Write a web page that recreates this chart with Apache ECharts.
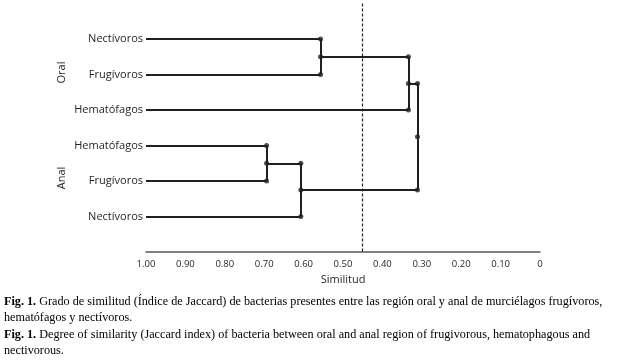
<!DOCTYPE html>
<html>
<head>
<meta charset="utf-8">
<script src="https://cdn.jsdelivr.net/npm/echarts@6/dist/echarts.min.js"></script>
<style>
html,body{margin:0;padding:0;background:#fff;}
#chart{width:618px;height:364px;}
</style>
</head>
<body>
<div id="chart"></div>
<script>
// Leaves (top to bottom)
const leafNames = ['Nectívoros', 'Frugívoros', 'Hematófagos', 'Hematófagos', 'Frugívoros', 'Nectívoros'];
const groupNames = ['Oral', 'Anal'];
// Merges: indices < 6 are leaves, 6+ refer to earlier merges (6 = first merge, ...)
const mergeLeft = [0, 6, 3, 8, 7];
const mergeRight = [1, 2, 4, 5, 9];
const mergeSimilarity = [0.557, 0.334, 0.694, 0.607, 0.311];
// Cut-off line
const cutoff = 0.446;
// x-axis tick labels
const xTickValues = [1.0, 0.9, 0.8, 0.7, 0.6, 0.5, 0.4, 0.3, 0.2, 0.1, 0];
const xTickLabels = ['1.00', '0.90', '0.80', '0.70', '0.60', '0.50', '0.40', '0.30', '0.20', '0.10', '0'];
const axisTitle = 'Similitud';
const captionEs = ['{b|Fig. 1.} Grado de similitud (Índice de Jaccard) de bacterias presentes entre las región oral y anal de murciélagos frugívoros,', 'hematófagos y nectívoros.'];
const captionEn = ['{b|Fig. 1.} Degree of similarity (Jaccard index) of bacteria between oral and anal region of frugivorous, hematophagous and', 'nectivorous.'];

// build dendrogram geometry from the arrays
const nodes = leafNames.map((n, i) => ({ x: 1.0, y: i }));
const segs = [];
const dots = [];
mergeLeft.forEach((l, k) => {
  const r = mergeRight[k];
  const s = mergeSimilarity[k];
  const a = nodes[l], b = nodes[r];
  segs.push({ coords: [[a.x, a.y], [s, a.y]] });
  segs.push({ coords: [[b.x, b.y], [s, b.y]] });
  segs.push({ coords: [[s, a.y], [s, b.y]] });
  const mid = (a.y + b.y) / 2;
  dots.push([s, a.y], [s, b.y], [s, mid]);
  nodes.push({ x: s, y: mid });
});

const ink = '#231f20';
const capFont = 'Liberation Serif';
const capSize = 12.2;
const chart = echarts.init(document.getElementById('chart'));
chart.setOption({
  animation: false,
  grid: { left: 146, right: 78, top: 3.5, bottom: 112, containLabel: false },
  xAxis: {
    type: 'value', inverse: true, min: 0, max: 1, interval: 0.1,
    axisLine: { show: true, onZero: false, lineStyle: { color: '#555', width: 1.5 } },
    axisTick: { show: false },
    splitLine: { show: false },
    axisLabel: {
      margin: 7, color: ink, fontFamily: 'Open Sans', fontSize: 9.5,
      formatter: v => { const i = xTickValues.findIndex(t => Math.abs(t - v) < 1e-6); return i >= 0 ? xTickLabels[i] : ''; }
    },
    name: axisTitle, nameLocation: 'middle', nameGap: 20,
    nameTextStyle: { color: ink, fontFamily: 'Open Sans', fontSize: 11 }
  },
  yAxis: {
    type: 'value', inverse: true, min: -1, max: 6, interval: 1,
    axisLine: { show: false }, axisTick: { show: false }, splitLine: { show: false },
    axisLabel: {
      margin: 3, color: ink, fontFamily: 'Open Sans', fontSize: 11,
      formatter: v => (v >= 0 && v < leafNames.length && Number.isInteger(v)) ? leafNames[v] : ''
    }
  },
  series: [
    {
      type: 'lines', coordinateSystem: 'cartesian2d', polyline: false, silent: true,
      lineStyle: { color: ink, width: 2, opacity: 1 },
      data: segs,
      markLine: {
        silent: true, symbol: 'none', label: { show: false },
        lineStyle: { color: ink, type: [3, 2], width: 1.2 },
        data: [{ xAxis: cutoff }]
      }
    },
    {
      type: 'scatter', symbol: 'circle', symbolSize: 5, silent: true,
      itemStyle: { color: ink }, data: dots
    }
  ],
  graphic: [
    { type: 'text', x: 61.5, y: 72.5, rotation: Math.PI / 2,
      style: { text: groupNames[0], fill: ink, font: '11px "Open Sans"', align: 'center', verticalAlign: 'middle' } },
    { type: 'text', x: 61.5, y: 178, rotation: Math.PI / 2,
      style: { text: groupNames[1], fill: ink, font: '11px "Open Sans"', align: 'center', verticalAlign: 'middle' } },
    { type: 'text', left: 4, top: 294,
      style: {
        text: captionEs.join('\n'), fill: '#000', fontFamily: capFont, fontSize: capSize, lineHeight: 16,
        rich: { b: { fontWeight: 'bold', fontFamily: capFont, fontSize: capSize, fill: '#000', lineHeight: 16 } }
      } },
    { type: 'text', left: 4, top: 327,
      style: {
        text: captionEn.join('\n'), fill: '#000', fontFamily: capFont, fontSize: capSize, lineHeight: 16,
        rich: { b: { fontWeight: 'bold', fontFamily: capFont, fontSize: capSize, fill: '#000', lineHeight: 16 } }
      } }
  ]
});
</script>
</body>
</html>
